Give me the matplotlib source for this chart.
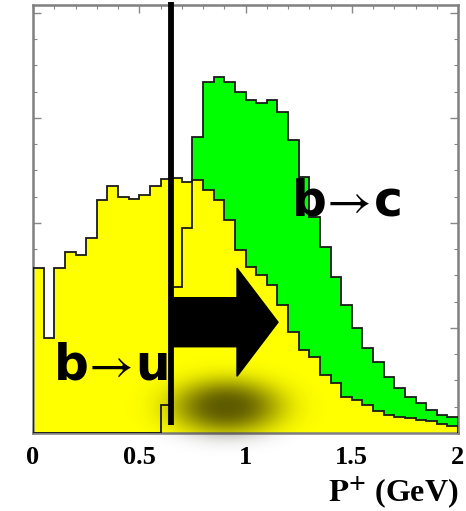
import numpy as np
import matplotlib.pyplot as plt
from matplotlib.ticker import MultipleLocator

plt.rcParams['mathtext.fontset'] = 'stix'

# P+ bins, 0 to 2 GeV in steps of 0.05
edges = np.linspace(0.0, 2.0, 41)

# b -> u spectrum (yellow), arbitrary units
b_to_u = [157.1, 90.5, 157.1, 172.4, 169.5, 185.7, 221.9, 235.2, 224.8, 222.9,
          226.7, 235.2, 241.9, 242.9, 239.0, 241.0, 231.4, 221.9, 202.9, 174.3,
          158.1, 150.5, 141.0, 121.9, 96.2, 79.0, 72.4, 55.2, 47.6, 34.3,
          31.4, 26.7, 21.0, 17.1, 15.2, 14.3, 12.4, 11.0, 9.0, 7.1]

# b -> c spectrum (green), arbitrary units
b_to_c = [0, 0, 0, 0, 0, 0, 0, 0, 0, 0,
          0, 0, 26.7, 139.0, 195.2, 281.9, 334.3, 339.0, 334.3, 324.8,
          317.1, 314.3, 317.1, 305.7, 279.0, 243.8, 205.7, 177.1, 148.6, 121.9,
          100.0, 81.0, 67.6, 53.3, 42.9, 34.3, 28.6, 21.9, 17.1, 15.2]

cut = 0.65
xticks = [0, 0.5, 1, 1.5, 2]
xticklabels = ['0', '0.5', '1', '1.5', '2']

fig = plt.figure(figsize=(4.66, 5.11), dpi=100)
ax = fig.add_axes([33/466, 78/511, 425/466, 428/511])

# fills first, then outlines on top (b->c outline shows through yellow)
ax.stairs(b_to_c, edges, fill=True, color='#00ff00', zorder=1)
ax.stairs(b_to_u, edges, fill=True, color='#ffff00', zorder=2)
ax.stairs(b_to_c, edges, color='#1a1a1a', lw=1.3, zorder=3)
ax.stairs(b_to_u, edges, color='#1a1a1a', lw=1.3, zorder=3)

ax.set_xlim(0, 2)
ax.set_ylim(0, 407.6)

# cut line
ax.plot([cut, cut], [7.6, 410.5], color='black', lw=4.2, clip_on=False, zorder=5,
        solid_capstyle='butt')

# big arrow
ax.arrow(0.654, 105.5, 0.306, 0, width=46.7, head_width=103, head_length=0.193,
         length_includes_head=False, color='black', zorder=6)

ax.text(1.473, 207.6, r'b$\!\rightarrow\!$c', fontsize=35, fontweight='bold',
        ha='center', va='baseline', zorder=8)
ax.text(0.365, 50.5, r'b$\!\rightarrow\!$u', fontsize=35, fontweight='bold',
        ha='center', va='baseline', zorder=8)

ax.set_xticks(xticks)
ax.set_xticklabels(xticklabels, fontfamily='Liberation Serif', fontsize=19,
                   fontweight='bold')
ax.xaxis.set_minor_locator(MultipleLocator(0.1))
ax.yaxis.set_major_locator(MultipleLocator(100))
ax.yaxis.set_minor_locator(MultipleLocator(25))
ax.tick_params(which='both', direction='in', top=True, right=True,
               color='#888888', labelleft=False)
ax.tick_params(which='major', length=6, width=1, pad=9)
ax.tick_params(which='minor', length=3, width=0.8)
for s in ax.spines.values():
    s.set_color('#808080')
    s.set_linewidth(1.8)

fig.text(458/466, 1 - 501/511, r'$\mathbf{P^{+}}$ (GeV)', fontsize=23,
         fontfamily='Liberation Serif', fontweight='bold', ha='right',
         va='baseline')

# blurred shadow under the arrow
ov = fig.add_axes([0, 0, 1, 1])
ov.set_xlim(0, 466)
ov.set_ylim(511, 0)
ov.axis('off')
gx, gy = np.meshgrid(np.arange(466), np.arange(511))
r2 = ((gx - 226) / 38.0) ** 2 + ((gy - 406) / 19.0) ** 2
alpha = 0.7 * np.exp(-(r2 / 2) ** 1.3)
img = np.zeros((511, 466, 4))
img[..., 0] = 0.1
img[..., 1] = 0.08
img[..., 3] = alpha
ov.imshow(img, extent=(0, 466, 511, 0), zorder=7)

fig.savefig('out.png', dpi=100)
